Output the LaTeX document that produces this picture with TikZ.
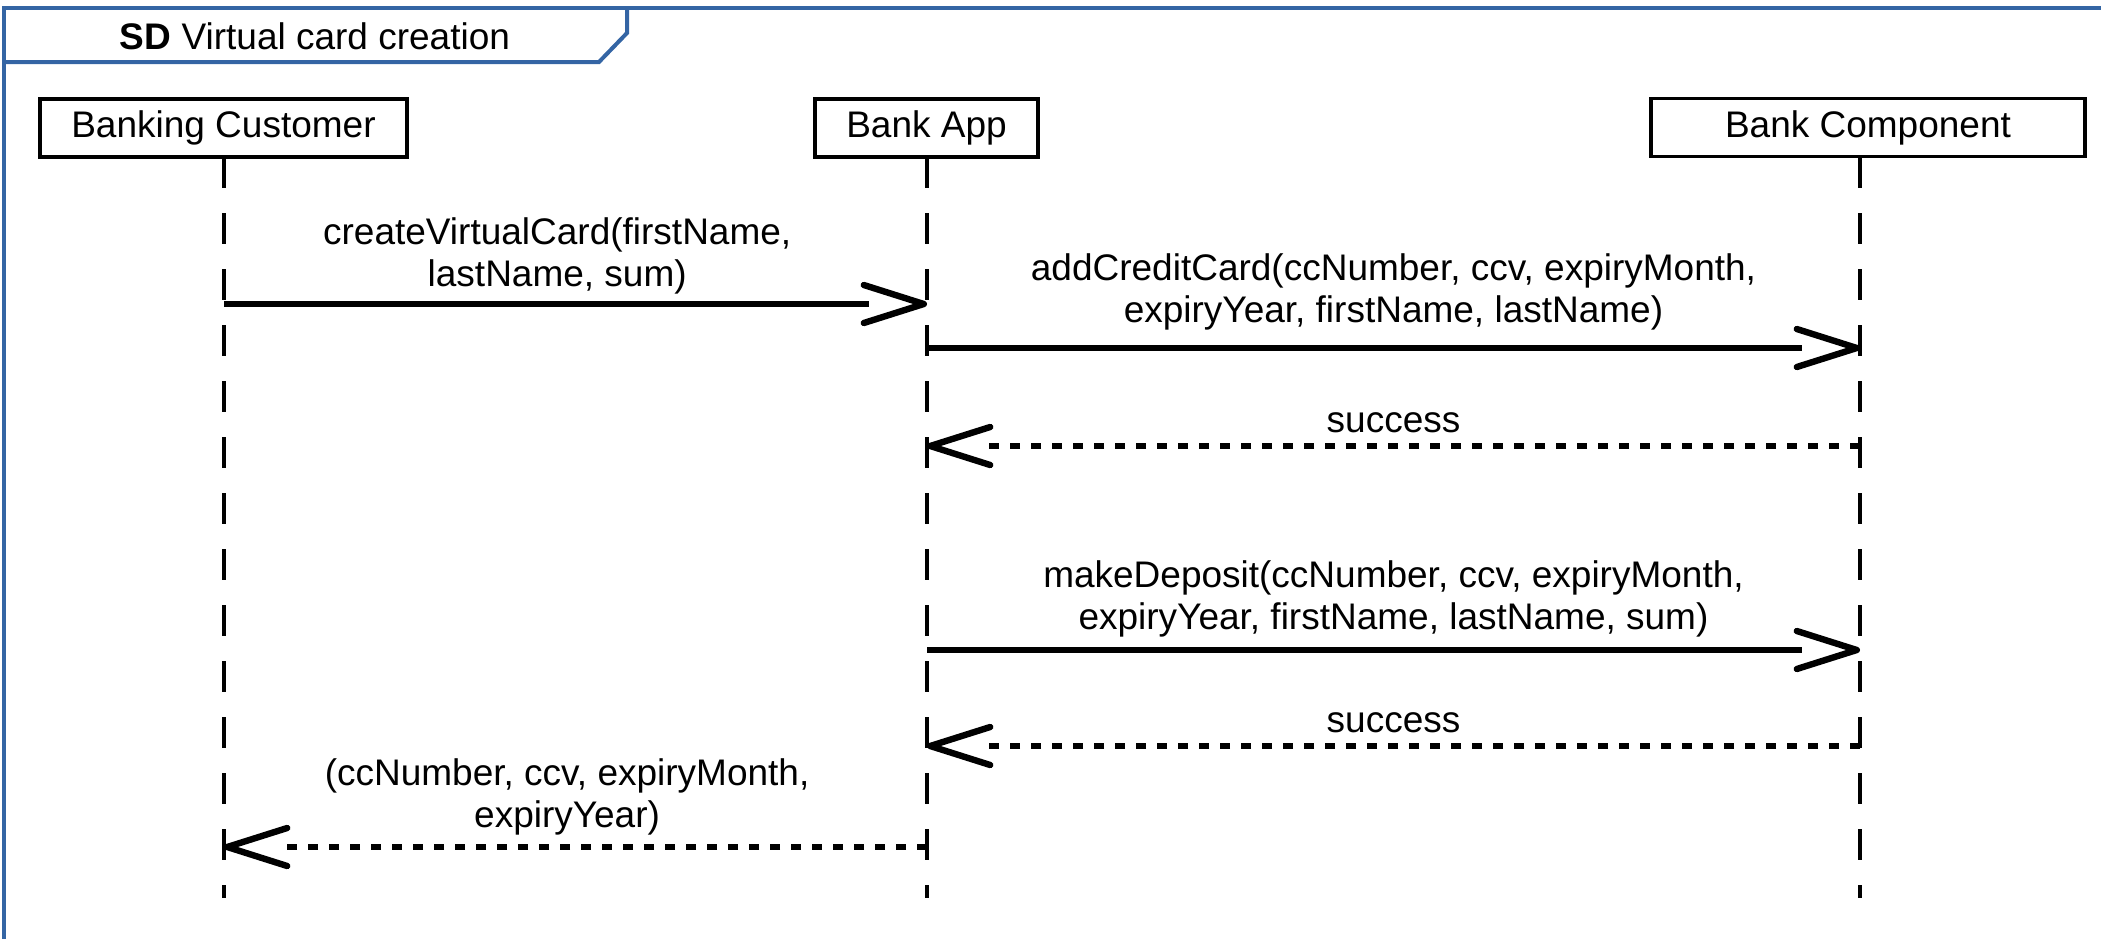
\documentclass[tikz,border=0pt]{standalone}
\usepackage{fontspec}
\setmainfont{Liberation Sans}
\usetikzlibrary{arrows.meta, decorations.markings}

\definecolor{framecol}{RGB}{52,101,164}

\begin{document}
\begin{tikzpicture}[x=0.5pt, y=-0.5pt,
  every node/.style={font=\fontsize{18.5}{21}\selectfont},
  part box/.style={draw, line width=1.6pt, minimum height=29pt, inner sep=0pt},
  frame line/.style={draw=framecol, line width=2pt},
  life line/.style={line width=1.8pt, dash pattern=on 15.5pt off 12.5pt},
  open tip/.style={shorten >=29pt, postaction={decorate}, decoration={markings, mark=at position 1 with {\arrow{Straight Barb[length=30pt, width=19pt, line width=3.2pt, round]}}}},
  call msg/.style={open tip, line width=2.6pt},
  reply msg/.style={open tip, line width=2.6pt, dash pattern=on 5pt off 5.5pt},
  msg label/.style={above=#1, inner sep=0pt, align=center},
  msg label/.default=2.7pt]
\useasboundingbox (0,0) rectangle (2101,938);
\clip (0,0) rectangle (2101,938);

% frame and its title
\draw[frame line] (4,960) -- (4,8) -- (2120,8);
\draw[frame line] (4,62) -- (599,62) -- (627,33) -- (627,8);
\node (title) at (315,36) {\textbf{SD} Virtual card creation};

% participants
\node[part box, minimum width=183.5pt] (cust) at (223.5,128) {Banking Customer};
\node[part box, minimum width=111.5pt] (app) at (926.5,128) {Bank App};
\node[part box, minimum width=217pt] (comp) at (1868,127.5) {Bank Component};

\coordinate (custtop) at (224,157);
\coordinate (apptop) at (927,157);
\coordinate (comptop) at (1860,157);
\coordinate (bottom) at (0,898);

\draw[life line] (custtop) -- (custtop |- bottom);
\draw[life line] (apptop) -- (apptop |- bottom);
\draw[life line] (comptop) -- (comptop |- bottom);

% messages
\coordinate (m1) at (0,304);
\coordinate (m2) at (0,348);
\coordinate (m3) at (0,446);
\coordinate (m4) at (0,650);
\coordinate (m5) at (0,746);
\coordinate (m6) at (0,847);

\draw[call msg] (custtop |- m1) -- node[msg label=1.4pt, pos=0.474] {createVirtualCard(firstName,\\lastName, sum)\strut} (apptop |- m1);
\draw[call msg] (apptop |- m2) -- node[msg label=5.4pt] {addCreditCard(ccNumber, ccv, expiryMonth,\\expiryYear, firstName, lastName)\strut} (comptop |- m2);
\draw[reply msg] (comptop |- m3) -- node[msg label=-0.6pt] {success\strut} (apptop |- m3);
\draw[call msg] (apptop |- m4) -- node[msg label] {makeDeposit(ccNumber, ccv, expiryMonth,\\expiryYear, firstName, lastName, sum)\strut} (comptop |- m4);
\draw[reply msg] (comptop |- m5) -- node[msg label=-0.6pt] {success\strut} (apptop |- m5);
\draw[reply msg] (apptop |- m6) -- node[msg label=2pt, pos=0.512] {(ccNumber, ccv, expiryMonth,\\expiryYear)\strut} (custtop |- m6);
\end{tikzpicture}
\end{document}
